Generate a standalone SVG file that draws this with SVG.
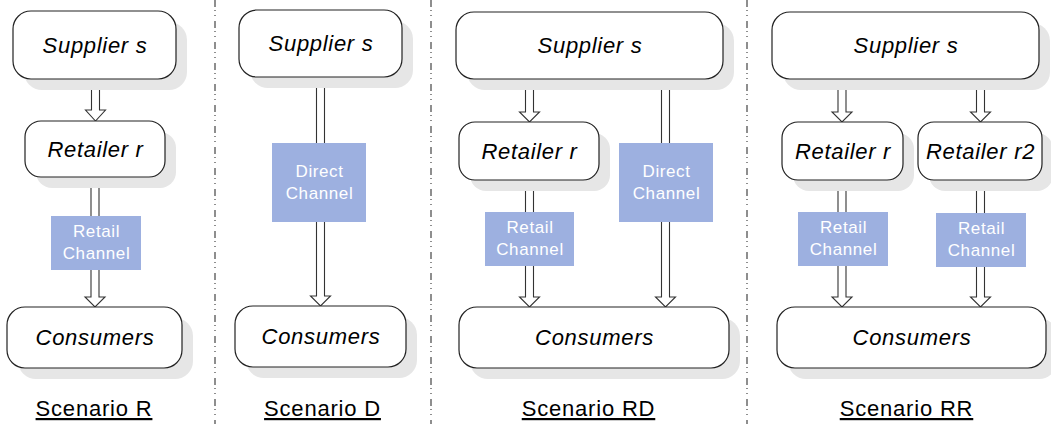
<svg xmlns="http://www.w3.org/2000/svg" width="1051" height="428" viewBox="0 0 1051 428">
<style>
.shadow{fill:#e6e6e6;stroke:none}
.box{fill:#ffffff;stroke:#222222;stroke-width:1.2}
.nt{font-family:"Liberation Sans",Arial,sans-serif;font-style:italic;font-size:22px;letter-spacing:0.7px;fill:#000000;text-anchor:middle}
.lab{fill:#9db0e0;stroke:none}
.lt{font-family:"Liberation Sans",Arial,sans-serif;font-size:17px;letter-spacing:0.6px;fill:#ffffff;text-anchor:middle}
.sc{font-family:"Liberation Sans",Arial,sans-serif;font-size:22px;letter-spacing:0.8px;fill:#000000;text-anchor:middle;text-decoration:underline}
.arr{fill:#ffffff;stroke:#333333;stroke-width:1.1;stroke-linejoin:miter}
.sep{stroke:#444444;stroke-width:1.2;stroke-dasharray:7 3 1 4 1 5;fill:none}
</style>
<rect width="1051" height="428" fill="#ffffff"/>
<g id="separators">
<line class="sep" x1="215" y1="0" x2="215" y2="424"/>
<line class="sep" x1="431" y1="0" x2="431" y2="424"/>
<line class="sep" x1="747" y1="0" x2="747" y2="424"/>
</g>
<g id="connectors">
<path class="arr" d="M91.5,79 V110 H85.5 L95.5,121 L105.5,110 H99.5 V79"/>
<path class="arr" d="M91,177 V297 H85 L95,307 L105,297 H99 V177"/>
<path class="arr" d="M316.5,77 V296 H310.5 L320.5,306 L330.5,296 H324.5 V77"/>
<path class="arr" d="M525.5,79 V112 H519.5 L529.5,122 L539.5,112 H533.5 V79"/>
<path class="arr" d="M525.5,180 V297 H519.5 L529.5,307 L539.5,297 H533.5 V180"/>
<path class="arr" d="M661.5,79 V297 H655.5 L665.5,307 L675.5,297 H669.5 V79"/>
<path class="arr" d="M838,79 V112 H832 L842,122 L852,112 H846 V79"/>
<path class="arr" d="M976.5,79 V112 H970.5 L980.5,122 L990.5,112 H984.5 V79"/>
<path class="arr" d="M838,180 V297 H832 L842,307 L852,297 H846 V180"/>
<path class="arr" d="M976.5,180 V297 H970.5 L980.5,307 L990.5,297 H984.5 V180"/>
</g>
<g id="R_supplier">
<rect class="shadow" x="24" y="22" width="163" height="68" rx="18"/>
<rect class="box" x="13" y="11" width="163" height="68" rx="18"/>
<text class="nt" x="95" y="53">Supplier s</text>
</g>
<g id="R_retailer">
<rect class="shadow" x="36" y="132" width="140" height="56" rx="16"/>
<rect class="box" x="25" y="121" width="140" height="56" rx="16"/>
<text class="nt" x="95.5" y="157">Retailer r</text>
</g>
<g id="R_consumers">
<rect class="shadow" x="18" y="318" width="175" height="61" rx="18"/>
<rect class="box" x="7" y="307" width="175" height="61" rx="18"/>
<text class="nt" x="95" y="345">Consumers</text>
</g>
<g id="R_label">
<rect class="lab" x="51" y="216" width="90" height="54"/>
<text class="lt" x="96.5" y="237">Retail</text>
<text class="lt" x="96.5" y="259">Channel</text>
</g>
<g id="D_supplier">
<rect class="shadow" x="250" y="21" width="163" height="67" rx="18"/>
<rect class="box" x="239" y="10" width="163" height="67" rx="18"/>
<text class="nt" x="321" y="51">Supplier s</text>
</g>
<g id="D_consumers">
<rect class="shadow" x="246" y="317" width="171" height="61" rx="18"/>
<rect class="box" x="235" y="306" width="171" height="61" rx="18"/>
<text class="nt" x="321" y="344">Consumers</text>
</g>
<g id="D_label">
<rect class="lab" x="272" y="143" width="94" height="79"/>
<text class="lt" x="319.5" y="177">Direct</text>
<text class="lt" x="319.5" y="199">Channel</text>
</g>
<g id="RD_supplier">
<rect class="shadow" x="467" y="23" width="267" height="67" rx="18"/>
<rect class="box" x="456" y="12" width="267" height="67" rx="18"/>
<text class="nt" x="590" y="53">Supplier s</text>
</g>
<g id="RD_retailer">
<rect class="shadow" x="470" y="133" width="140" height="58" rx="16"/>
<rect class="box" x="459" y="122" width="140" height="58" rx="16"/>
<text class="nt" x="529.5" y="159">Retailer r</text>
</g>
<g id="RD_consumers">
<rect class="shadow" x="470" y="318" width="270" height="61" rx="18"/>
<rect class="box" x="459" y="307" width="270" height="61" rx="18"/>
<text class="nt" x="594.5" y="345">Consumers</text>
</g>
<g id="RD_retail_label">
<rect class="lab" x="485" y="212" width="89" height="54"/>
<text class="lt" x="530" y="233">Retail</text>
<text class="lt" x="530" y="255">Channel</text>
</g>
<g id="RD_direct_label">
<rect class="lab" x="619" y="143" width="94" height="79"/>
<text class="lt" x="666.5" y="177">Direct</text>
<text class="lt" x="666.5" y="199">Channel</text>
</g>
<g id="RR_supplier">
<rect class="shadow" x="783" y="23" width="267" height="67" rx="18"/>
<rect class="box" x="772" y="12" width="267" height="67" rx="18"/>
<text class="nt" x="906" y="53">Supplier s</text>
</g>
<g id="RR_retailer_r">
<rect class="shadow" x="793" y="133" width="121" height="58" rx="16"/>
<rect class="box" x="782" y="122" width="121" height="58" rx="16"/>
<text class="nt" x="843" y="159">Retailer r</text>
</g>
<g id="RR_retailer_r2">
<rect class="shadow" x="929" y="133" width="124" height="58" rx="16"/>
<rect class="box" x="918" y="122" width="124" height="58" rx="16"/>
<text class="nt" x="980.5" y="159">Retailer r2</text>
</g>
<g id="RR_consumers">
<rect class="shadow" x="788" y="318" width="269" height="61" rx="18"/>
<rect class="box" x="777" y="307" width="269" height="61" rx="18"/>
<text class="nt" x="912" y="345">Consumers</text>
</g>
<g id="RR_label1">
<rect class="lab" x="798" y="212" width="90" height="54"/>
<text class="lt" x="843.5" y="233">Retail</text>
<text class="lt" x="843.5" y="255">Channel</text>
</g>
<g id="RR_label2">
<rect class="lab" x="936" y="213" width="90" height="54"/>
<text class="lt" x="981.5" y="234">Retail</text>
<text class="lt" x="981.5" y="256">Channel</text>
</g>
<g id="scenario_titles">
<text class="sc" x="94" y="416">Scenario R</text>
<text class="sc" x="322.5" y="416">Scenario D</text>
<text class="sc" x="588.5" y="416">Scenario RD</text>
<text class="sc" x="906.5" y="416">Scenario RR</text>
</g>
</svg>
